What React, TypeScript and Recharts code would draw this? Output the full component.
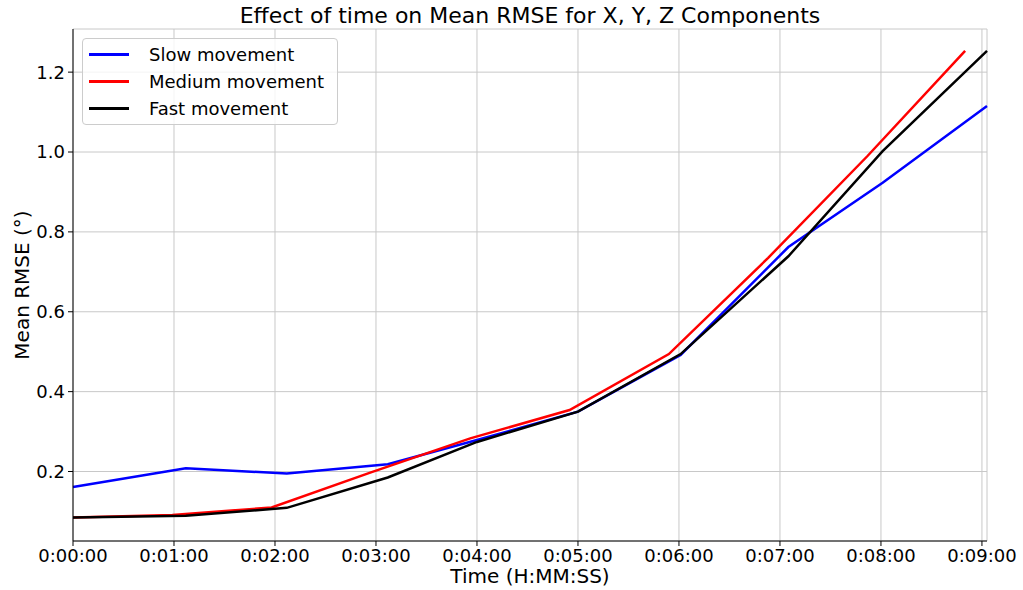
import { LineChart, Line, XAxis, YAxis, CartesianGrid } from "recharts";

// time in seconds, value in degrees
const slowTimes = [0, 67, 127, 187, 240, 300, 361, 425, 481, 543];
const slowValues = [0.161, 0.208, 0.195, 0.218, 0.279, 0.35, 0.492, 0.762, 0.923, 1.115];

const mediumTimes = [0, 59, 118, 177, 236, 295, 354, 413, 472, 530];
const mediumValues = [0.085, 0.091, 0.11, 0.198, 0.283, 0.354, 0.494, 0.735, 0.99, 1.253];

const fastTimes = [0, 67, 127, 187, 240, 300, 361, 425, 481, 543];
const fastValues = [0.085, 0.089, 0.109, 0.185, 0.274, 0.35, 0.494, 0.739, 1.002, 1.253];

const xTicks = [0, 60, 120, 180, 240, 300, 360, 420, 480, 540];
const yTicks = [0.2, 0.4, 0.6, 0.8, 1.0, 1.2];

const seriesNames = ["Slow movement", "Medium movement", "Fast movement"];
const seriesColors = ["#0000ff", "#ff0000", "#000000"];

const toRows = (ts: number[], vs: number[]) => ts.map((t, i) => ({ t, v: vs[i] }));
const slowData = toRows(slowTimes, slowValues);
const mediumData = toRows(mediumTimes, mediumValues);
const fastData = toRows(fastTimes, fastValues);

const fmtTime = (s: number) => {
  const h = Math.floor(s / 3600);
  const m = Math.floor((s % 3600) / 60);
  const sec = Math.round(s % 60);
  return `${h}:${String(m).padStart(2, "0")}:${String(sec).padStart(2, "0")}`;
};

const FONT = "'DejaVu Sans', sans-serif";
const tickStyle = { fontSize: 18, fill: "#000", fontFamily: FONT };

const LegendBox = () => (
  <div
    style={{
      position: "absolute",
      left: 82,
      top: 38,
      zIndex: 3,
      border: "1px solid #cccccc",
      borderRadius: 4,
      background: "rgba(255,255,255,0.8)",
      width: 256,
      height: 87,
      boxSizing: "border-box",
      paddingTop: 2,
      fontFamily: FONT,
      fontSize: 18,
    }}
  >
    {seriesNames.map((n, i) => (
      <div key={n} style={{ display: "flex", alignItems: "center", height: 27 }}>
        <div style={{ width: 40, height: 2.5, background: seriesColors[i], marginLeft: 6, marginRight: 20 }} />
        <span>{n}</span>
      </div>
    ))}
  </div>
);

export default function App() {
  return (
    <div style={{ position: "absolute", left: 0, top: 0, width: 1023, height: 590, background: "#fff", fontFamily: FONT }}>
      <div style={{ position: "absolute", left: 0, width: 1060, top: 3, textAlign: "center", fontSize: 22, zIndex: 2 }}>
        Effect of time on Mean RMSE for X, Y, Z Components
      </div>
      <div style={{ position: "absolute", left: 0, width: 1060, top: 564, textAlign: "center", fontSize: 20, zIndex: 2 }}>
        Time (H:MM:SS)
      </div>
      <div
        style={{
          position: "absolute",
          left: 22,
          top: 285,
          transform: "translate(-50%, -50%) rotate(-90deg)",
          whiteSpace: "nowrap",
          fontSize: 20,
          zIndex: 2,
        }}
      >
        Mean RMSE (°)
      </div>
      <LegendBox />
      <LineChart width={1023} height={590} margin={{ top: 29, right: 36, left: 0, bottom: 0 }}>
        <CartesianGrid stroke="#c8c8c8" strokeWidth={1} />
        <XAxis
          type="number"
          dataKey="t"
          domain={[0, 542.8]}
          ticks={xTicks}
          tickFormatter={fmtTime}
          height={49}
          tick={tickStyle}
          tickSize={5}
          tickMargin={3}
          stroke="#000"
          allowDuplicatedCategory={false}
        />
        <XAxis xAxisId="top" orientation="top" type="number" domain={[0, 542.8]} height={0} tick={false} tickLine={false} stroke="#000" />
        <YAxis
          type="number"
          domain={[0.026, 1.308]}
          ticks={yTicks}
          tickFormatter={(v: number) => v.toFixed(1)}
          width={73}
          tick={tickStyle}
          tickSize={5}
          tickMargin={3}
          stroke="#000"
          allowDataOverflow
        />
        <YAxis yAxisId="right" orientation="right" domain={[0.026, 1.308]} width={0} tick={false} tickLine={false} stroke="#000" />
        <Line data={slowData} dataKey="v" name={seriesNames[0]} stroke={seriesColors[0]} strokeWidth={2.5} dot={false} isAnimationActive={false} />
        <Line data={mediumData} dataKey="v" name={seriesNames[1]} stroke={seriesColors[1]} strokeWidth={2.5} dot={false} isAnimationActive={false} />
        <Line data={fastData} dataKey="v" name={seriesNames[2]} stroke={seriesColors[2]} strokeWidth={2.5} dot={false} isAnimationActive={false} />
      </LineChart>
    </div>
  );
}
